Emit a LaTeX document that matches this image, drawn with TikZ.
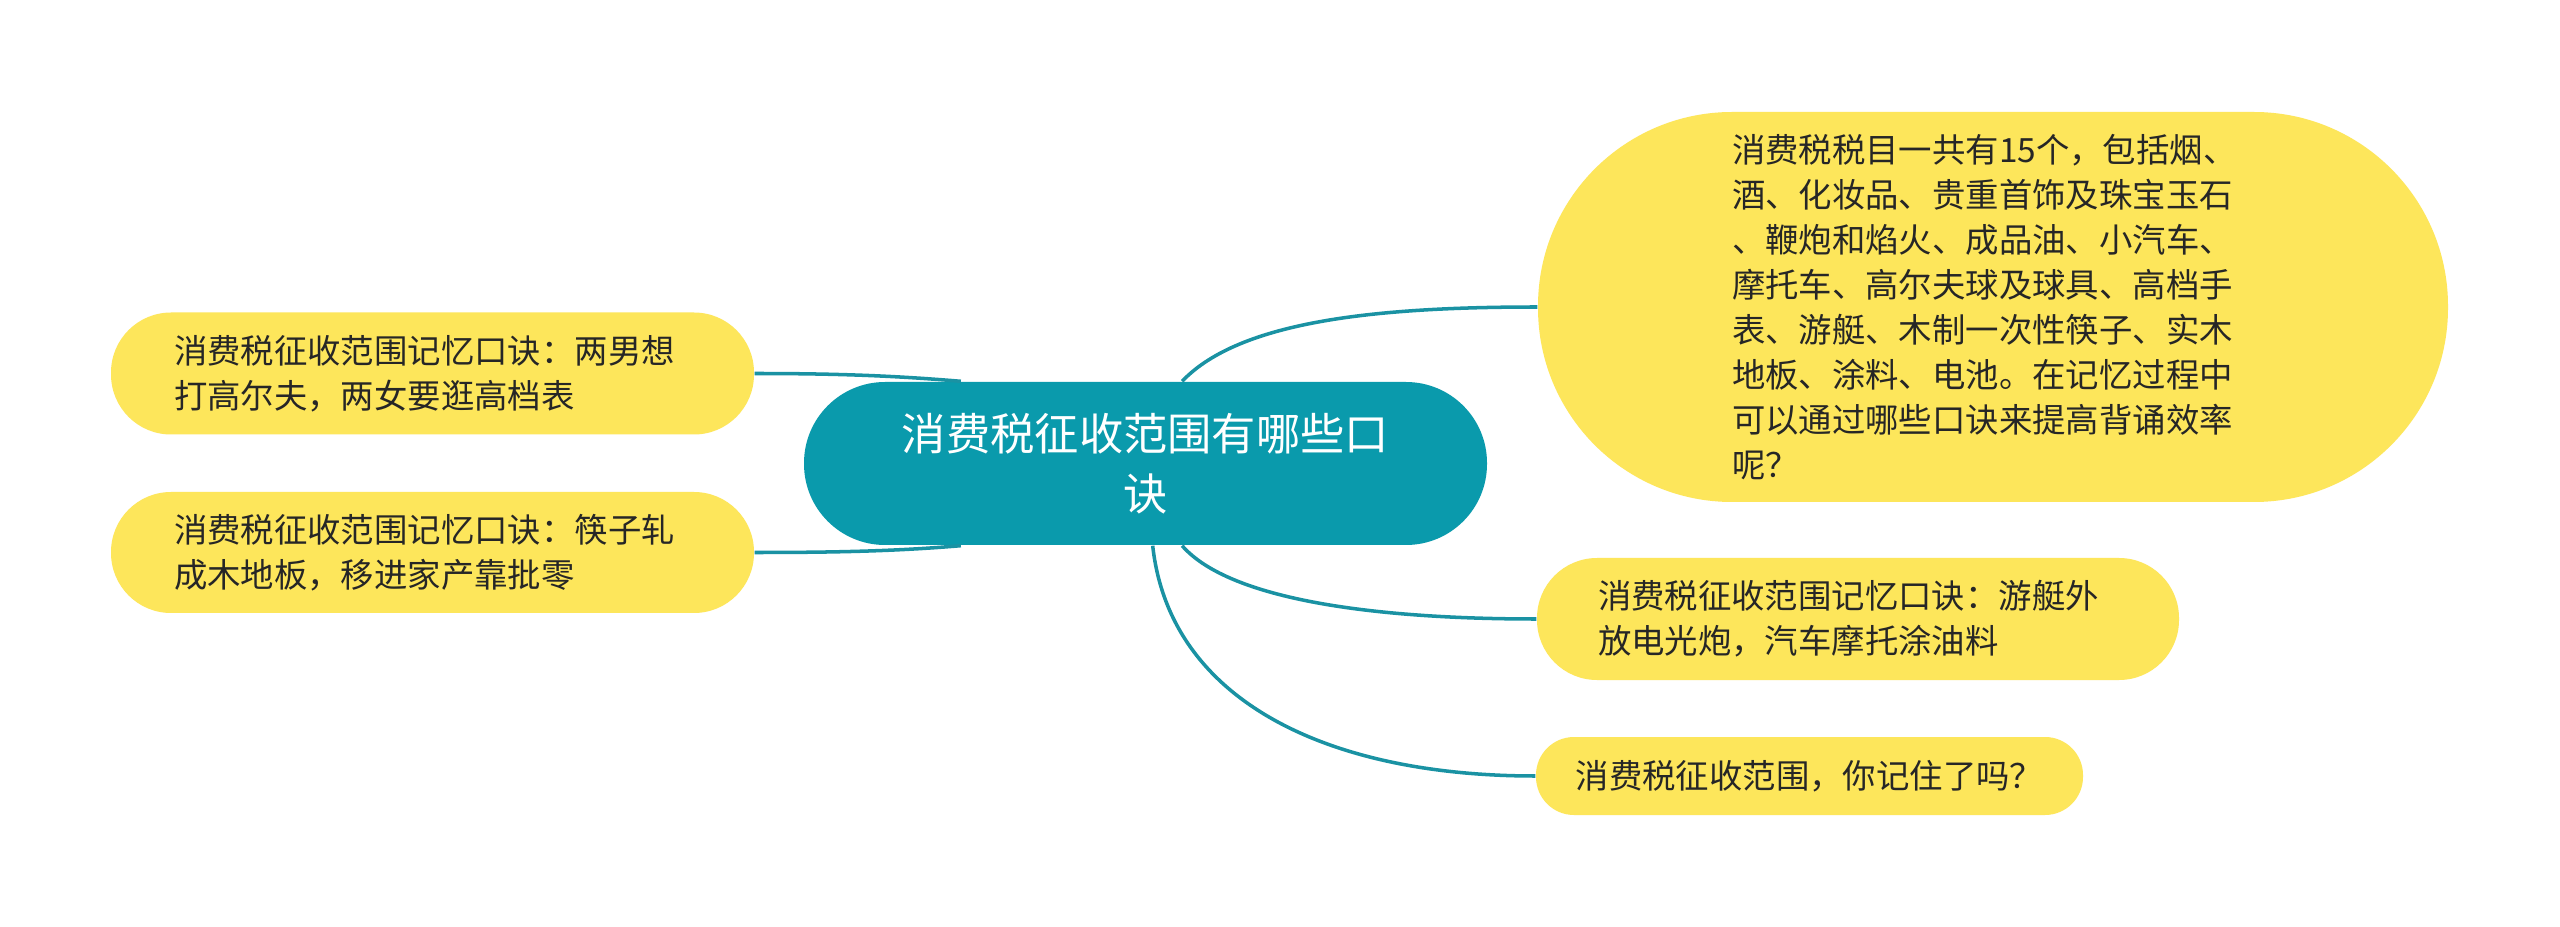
\documentclass[tikz,border=0pt]{standalone}
\usepackage{fontspec}
\newfontfamily\cjkfont{Noto Sans CJK SC}
\definecolor{topicteal}{HTML}{0A9AAC}
\definecolor{linkteal}{HTML}{1A92A3}
\definecolor{leafyellow}{HTML}{FDE65B}
\definecolor{leaftext}{HTML}{262626}
\tikzset{
  topicbox/.style={fill=topicteal, text=white, align=center, inner sep=0pt,
    font=\cjkfont\fontsize{12.6pt}{17pt}\selectfont},
  leafbox/.style={fill=leafyellow, text=leaftext, align=left, inner sep=0pt,
    font=\cjkfont\fontsize{9.5pt}{12.8pt}\selectfont},
  link/.style={draw=linkteal, line width=1pt}
}
\begin{document}
\begin{tikzpicture}
            % page
            \path[fill=white] (0,0) rectangle (25.6,-9.27);
            \useasboundingbox (0,0) rectangle (25.6,-9.27);
            % centre topic
            \node[topicbox, minimum width=6.83cm, minimum height=1.63cm, rounded corners=0.81cm]
              (topic) at (11.455,-4.635) {消费税征收范围有哪些口\\诀};
            % left leaves
            \node[leafbox, minimum width=6.43cm, minimum height=1.22cm, rounded corners=0.6cm, text width=5.17cm]
              (left1) at (4.325,-3.735) {消费税征收范围记忆口诀：两男想\\打高尔夫，两女要逛高档表};
            \node[leafbox, minimum width=6.43cm, minimum height=1.21cm, rounded corners=0.6cm, text width=5.17cm]
              (left2) at (4.325,-5.525) {消费税征收范围记忆口诀：筷子轧\\成木地板，移进家产靠批零};
            % right leaves
            \node[leafbox, minimum width=9.10cm, minimum height=3.90cm, rounded corners=1.94cm, text width=5.22cm]
              (right1) at (19.93,-3.07) {消费税税目一共有15个，包括烟、\\酒、化妆品、贵重首饰及珠宝玉石\\、鞭炮和焰火、成品油、小汽车、\\摩托车、高尔夫球及球具、高档手\\表、游艇、木制一次性筷子、实木\\地板、涂料、电池。在记忆过程中\\可以通过哪些口诀来提高背诵效率\\呢？};
            \node[leafbox, minimum width=6.42cm, minimum height=1.22cm, rounded corners=0.6cm, text width=5.2cm]
              (right2) at (18.58,-6.19) {消费税征收范围记忆口诀：游艇外\\放电光炮，汽车摩托涂油料};
            \node[leafbox, minimum width=5.47cm, minimum height=0.78cm, rounded corners=0.38cm]
              (right3) at (18.095,-7.76) {消费税征收范围，你记住了吗？};
            % links
            \draw[link] (topic.66) .. controls +(0.58,0.61) and +(-1.58,0) .. (right1.west);
            \draw[link] (topic.-66) .. controls +(0.48,-0.55) and +(-1.58,0) .. (right2.west);
            \draw[link] (topic.-85) .. controls +(0.17,-1.55) and +(-2.08,0) .. (right3.west);
            \draw[link] (left1.east) .. controls +(0.9,0) and +(-0.6,0.05) .. (topic.156);
            \draw[link] (left2.east) .. controls +(0.9,0) and +(-0.6,-0.05) .. (topic.-156);
        \end{tikzpicture}
\end{document}
